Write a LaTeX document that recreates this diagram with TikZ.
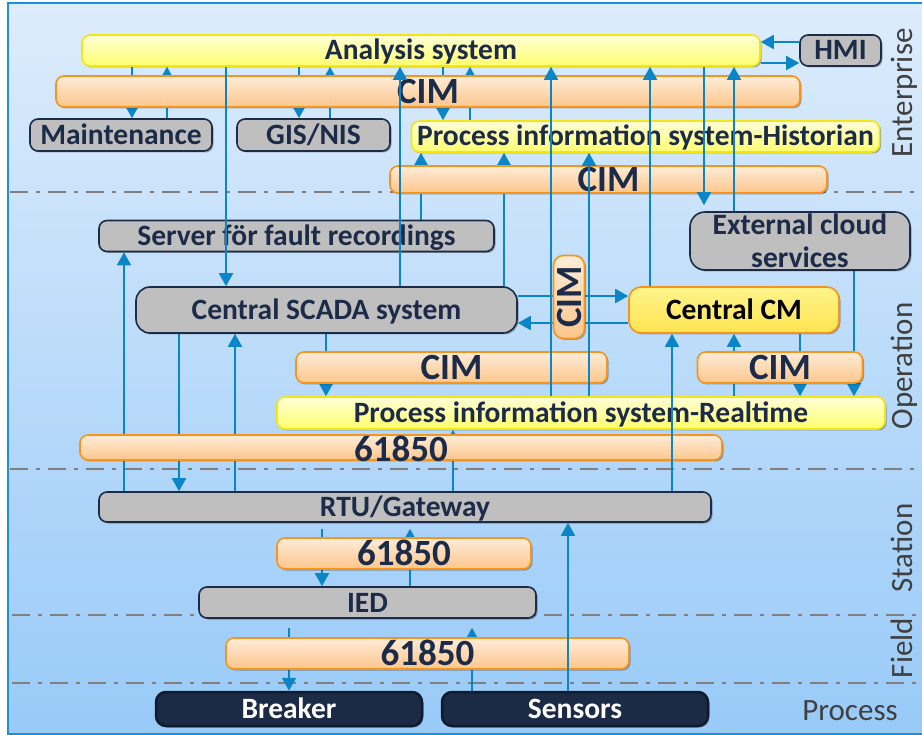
\documentclass[tikz,border=0pt]{standalone}
\usepackage{fontspec}
\setmainfont{Carlito}
\usetikzlibrary{arrows.meta,shadows}
\definecolor{lineblue}{RGB}{10,134,200}
\definecolor{navy}{RGB}{28,43,72}
\definecolor{boxgray}{RGB}{191,191,191}
\definecolor{ylwtop}{RGB}{255,255,215}
\definecolor{ylwbot}{RGB}{255,255,110}
\definecolor{ylwborder}{RGB}{242,230,20}
\definecolor{cmtop}{RGB}{255,244,140}
\definecolor{cmbot}{RGB}{255,228,80}
\definecolor{orborder}{RGB}{247,148,29}
\definecolor{ortop}{RGB}{254,236,216}
\definecolor{orbot}{RGB}{252,198,140}
\definecolor{darkbox}{RGB}{27,42,69}
\definecolor{darkborder}{RGB}{14,26,47}
\definecolor{bgtop}{RGB}{221,236,252}
\definecolor{bgbot}{RGB}{152,202,248}
\definecolor{panelborder}{RGB}{30,144,214}
\definecolor{sepgray}{RGB}{128,128,128}
\definecolor{labelgray}{RGB}{64,64,64}
\pgfdeclarelayer{panel}
\pgfdeclarelayer{under}
\pgfsetlayers{panel,under,main}
\tikzset{
  shad/.style={drop shadow={shadow xshift=1.5pt, shadow yshift=-1.5pt, opacity=0.3, fill=black}},
  bx/.style={shad, rounded corners=#1, line width=1.6pt, inner sep=0pt, text=navy,
    font=\bfseries\fontsize{29.5}{33}\selectfont, text height=19pt, text depth=0pt},
  bx/.default=8pt,
  graybox/.style={bx=#1, draw=navy, fill=boxgray},
  graybox/.default=8pt,
  ylwbox/.style={bx, draw=ylwborder, top color=ylwtop, bottom color=ylwbot},
  cmbox/.style={bx=12pt, draw=orborder, top color=cmtop, bottom color=cmbot, text=black},
  cimbox/.style={bx=#1, draw=orborder, top color=ortop, bottom color=orbot,
    font=\bfseries\fontsize{37}{37}\selectfont, text height=24pt},
  cimbox/.default=8pt,
  numbox/.style={cimbox},
  darkbx/.style={bx=10pt, draw=darkborder, fill=darkbox, text=white, line width=2.5pt},
  conn/.style={draw=lineblue, line width=1.8pt},
  arr/.style={conn, -{Triangle[width=14pt,length=13pt]}},
  sepline/.style={draw=sepgray, line width=2.2pt, dash pattern=on 18pt off 8pt on 4pt off 8pt},
  layer/.style={text=labelgray, font=\fontsize{31}{31}\selectfont, inner sep=0pt},
}
\begin{document}
\begin{tikzpicture}[x=1pt,y=-1pt]
\useasboundingbox (0,0) rectangle (922,735);
\begin{pgfonlayer}{panel}
  \fill[white] (0,0) rectangle (922,735);
  \shade[top color=bgtop, bottom color=bgbot] (8,3) rectangle (922,734);
  \draw[panelborder, line width=1.5pt] (922,3) -- (8,3) -- (8,734) -- (922,734);
  \draw[sepline] (10,192) -- (922,192);
  \draw[sepline] (10,469) -- (922,469);
  \draw[sepline] (12,615) -- (922,615);
  \draw[sepline] (12,683) -- (922,683);
\end{pgfonlayer}

% helper coordinates for connector positions
\foreach \v in {124,132,167,179,226,235,289,299,322,326,330,400,410,421,443,453,470,472,504,551,568,589,650,672,704,734,800,854}
  \coordinate (x\v) at (\v,0);
\foreach \v in {42,63,296,323}
  \coordinate (y\v) at (0,\v);

% boxes
\node[ylwbox, minimum width=678pt, minimum height=31pt] (ana) at (421,50.5) {Analysis system};
\node[cimbox, minimum width=744pt, minimum height=31pt] (cim1) at (428,91.5) {CIM};
\node[graybox, minimum width=81pt, minimum height=31pt] (hmi) at (840.5,50.5) {HMI};
\node[graybox, minimum width=182pt, minimum height=32pt] (maint) at (121,135) {Maintenance};
\node[graybox, minimum width=153pt, minimum height=32pt] (gis) at (313.5,135) {GIS/NIS};
\node[ylwbox, minimum width=468pt, minimum height=31pt] (hist) at (645.5,136.5) {Process information system-Historian};
\node[cimbox, minimum width=437pt, minimum height=27pt] (cim2) at (608.5,179.5) {CIM};
\node[graybox, minimum width=395pt, minimum height=31pt] (server) at (296.5,236) {Server för fault recordings};
\node[graybox=15pt, minimum width=220pt, minimum height=58pt, align=center, text height={}, text depth={}] (ext) at (800,241) {External cloud\\services};
\node[graybox=14pt, minimum width=381pt, minimum height=46pt] (scada) at (326.5,310) {Central SCADA system};
\node[cimbox=10pt, minimum width=31pt, minimum height=83pt, text height={}, text depth={}] (cimv) at (569,297) {\rotatebox{90}{CIM}};
\node[cmbox, minimum width=210pt, minimum height=46pt] (ccm) at (734,310) {Central CM};
\node[cimbox, minimum width=311pt, minimum height=31pt] (cim3) at (451.5,367.5) {CIM};
\node[cimbox, minimum width=165pt, minimum height=31pt] (cim4) at (780,367.5) {CIM};
\node[ylwbox, minimum width=608pt, minimum height=32pt] (rt) at (581,413) {Process information system-Realtime};
\node[numbox, minimum width=642pt, minimum height=25pt] (n1) at (401,447.5) {\raisebox{-2pt}{61850}};
\node[graybox, minimum width=612pt, minimum height=30pt] (rtu) at (405,507) {RTU/Gateway};
\node[numbox, minimum width=254pt, minimum height=31pt] (n2) at (404,553.5) {61850};
\node[graybox, minimum width=337pt, minimum height=31pt] (ied) at (367.5,602.5) {IED};
\node[numbox, minimum width=403pt, minimum height=31pt] (n3) at (427.5,653.5) {61850};
\node[darkbx, minimum width=266pt, minimum height=34pt] (breaker) at (289,709) {Breaker};
\node[darkbx, minimum width=266pt, minimum height=34pt] (sensors) at (575,709) {Sensors};

% layer labels
\node[layer, rotate=90, anchor=base] (lent) at (912,93) {Enterprise};
\node[layer, rotate=90, anchor=base] (lop) at (912,366) {Operation};
\node[layer, rotate=90, anchor=base] (lst) at (912,548) {Station};
\node[layer, rotate=90, anchor=base] (lfi) at (912,648) {Field};
\node[layer, anchor=base] (lpr) at (850,720) {Process};

% connectors running behind the boxes
\begin{pgfonlayer}{under}
  \draw[arr] (ana.south -| x132) -- (maint.north -| x132);
  \draw[arr] (maint.north -| x167) -- (ana.south -| x167);
  \draw[arr] (ana.south -| x299) -- (gis.north -| x299);
  \draw[arr] (gis.north -| x330) -- (ana.south -| x330);
  \draw[arr] (ana.south -| x443) -- (hist.north -| x443);
  \draw[arr] (hist.north -| x470) -- (ana.south -| x470);
  \draw[arr] (server.north -| x421) -- (hist.south -| x421);
  \draw[arr] (scada.north -| x504) -- (hist.south -| x504);
  \draw[arr] (rt.north -| x734) -- (ccm.south -| x734);
  \draw[arr] (ccm.south -| x800) -- (rt.north -| x800);
  \draw[arr] (ext.south -| x854) -- (rt.north -| x854);
  \draw[arr] (scada.south -| x326) -- (rt.north -| x326);
  \draw[arr] (rtu.north -| x124) -- (server.south -| x124);
  \draw[arr] (scada.south -| x179) -- (rtu.north -| x179);
  \draw[arr] (rtu.north -| x235) -- (scada.south -| x235);
  \draw[arr] (rtu.north -| x453) -- (rt.south -| x453);
  \draw[arr, shorten <=6pt] (rtu.south -| x322) -- (ied.north -| x322);
  \draw[arr, shorten >=6pt] (ied.north -| x410) -- (rtu.south -| x410);
  \draw[arr, shorten <=9pt] (ied.south -| x289) -- (breaker.north -| x289);
  \draw[arr, shorten >=9pt] (sensors.north -| x472) -- (ied.south -| x472);
  \draw[arr] (hmi.west |- y42) -- (ana.east |- y42);
  \draw[arr] (ana.east |- y63) -- (hmi.west |- y63);
  \draw[arr] (scada.east |- y296) -- (ccm.west |- y296);
  \draw[arr] (ccm.west |- y323) -- (scada.east |- y323);
\end{pgfonlayer}

% connectors running over the boxes
\draw[arr] (ana.south -| x226) -- (scada.north -| x226);
\draw[arr] (scada.north -| x400) -- (ana.south -| x400);
\draw[arr] (rt.north -| x551) -- (ana.south -| x551);
\draw[arr] (rt.north -| x589) -- (hist.south -| x589);
\draw[arr] (ccm.north -| x650) -- (ana.south -| x650);
\draw[arr, shorten >=6pt] (ana.south -| x704) -- (ext.north -| x704);
\draw[arr] (ext.north -| x734) -- (ana.south -| x734);
\draw[arr] (rtu.north -| x672) -- (ccm.south -| x672);
\draw[arr] (sensors.north -| x568) -- (rtu.south -| x568);
\end{tikzpicture}
\end{document}
